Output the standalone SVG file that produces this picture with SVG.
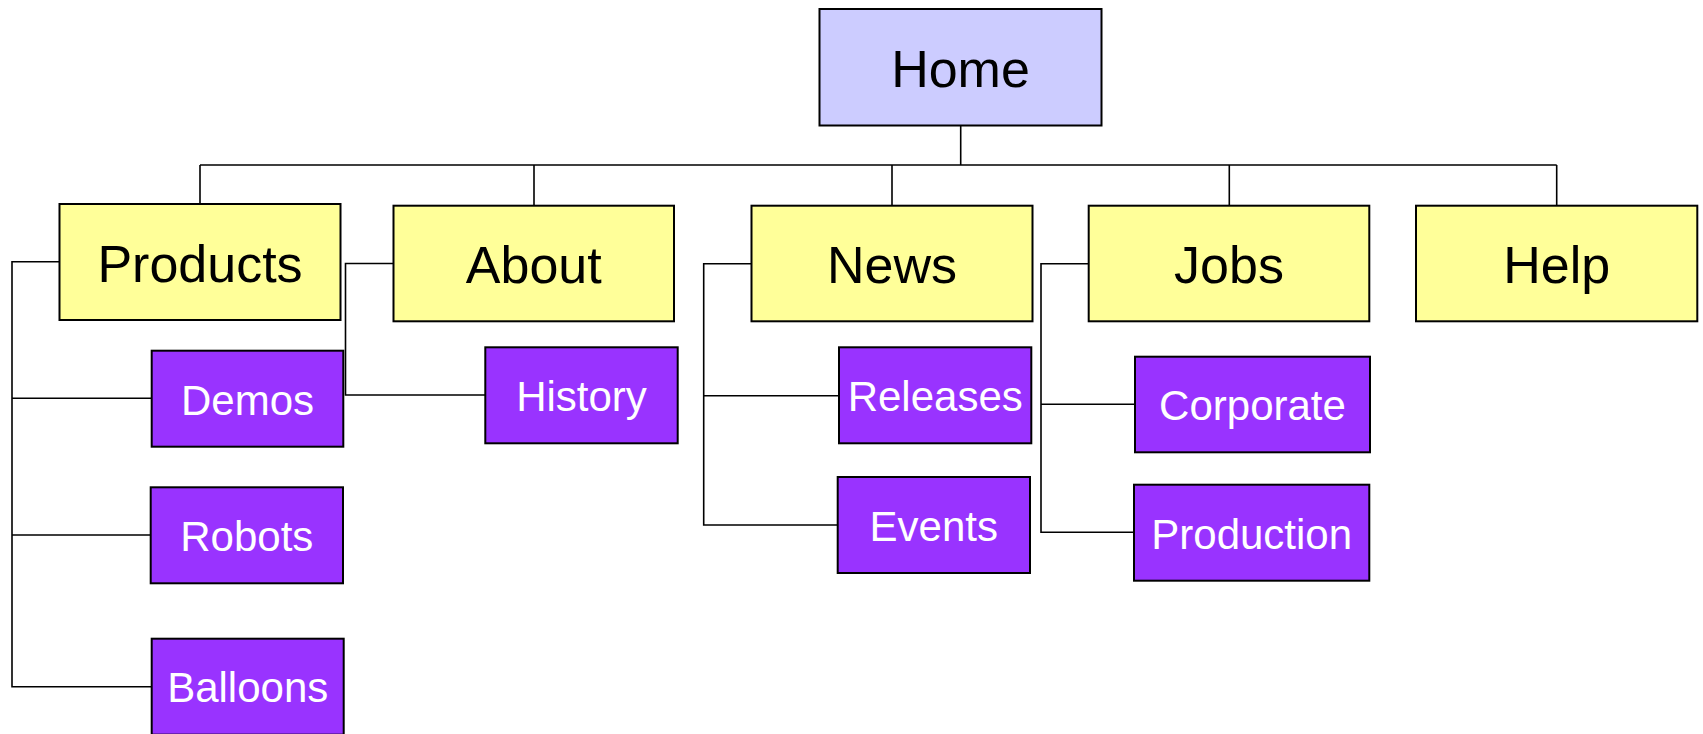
<svg xmlns="http://www.w3.org/2000/svg" width="1703" height="734" viewBox="0 0 1703 734">
<style>
.box{stroke:#000;stroke-width:2}
.home{fill:#CCCCFF}
.sec{fill:#FFFF99}
.sub{fill:#9933FF}
.t{font-family:"Liberation Sans",Arial,sans-serif;text-anchor:middle}
.big{font-size:52px;fill:#000}
.small{font-size:42px;fill:#fff}
.conn{fill:none;stroke:#000;stroke-width:1.6}
</style>
<rect width="1703" height="734" fill="#fff"/>
<g id="connectors">
<path class="conn" d="M960.7,125.7 V165 M200,165 H1556.7 M200,165 V204 M534,165 V205.7 M892,165 V205.7 M1229.3,165 V205.7 M1556.7,165 V205.7"/>
<path class="conn" d="M59.5,261.7 H12 V686.7 H151.7 M12,398.3 H151.7 M12,535 H150.7"/>
<path class="conn" d="M393.5,263.5 H345.5 V395 H485.3"/>
<path class="conn" d="M751.5,263.7 H703.7 V525 H837.7 M703.7,395.7 H839"/>
<path class="conn" d="M1088.7,263.7 H1041 V532.3 H1134 M1041,404.3 H1135"/>
</g>
<g id="home"><rect class="box home" x="819.5" y="9" width="282" height="116.5"/><text class="t big" x="960.5" y="86.8">Home</text></g>
<g id="products"><rect class="box sec" x="59.5" y="204" width="281" height="116"/><text class="t big" x="200" y="281.7">Products</text></g>
<g id="about"><rect class="box sec" x="393.5" y="205.7" width="280.5" height="115.6"/><text class="t big" x="533.8" y="283.2">About</text></g>
<g id="news"><rect class="box sec" x="751.5" y="205.7" width="281" height="115.6"/><text class="t big" x="892" y="283.2">News</text></g>
<g id="jobs"><rect class="box sec" x="1088.7" y="205.7" width="280.6" height="115.6"/><text class="t big" x="1229" y="283.2">Jobs</text></g>
<g id="help"><rect class="box sec" x="1416" y="205.7" width="281.3" height="115.6"/><text class="t big" x="1556.7" y="283.2">Help</text></g>
<g id="demos"><rect class="box sub" x="151.7" y="350.7" width="191.6" height="96"/><text class="t small" x="247.5" y="414.5">Demos</text></g>
<g id="robots"><rect class="box sub" x="150.7" y="487.3" width="192.3" height="96"/><text class="t small" x="246.8" y="551">Robots</text></g>
<g id="balloons"><rect class="box sub" x="151.7" y="638.7" width="192" height="96"/><text class="t small" x="247.7" y="701.7">Balloons</text></g>
<g id="history"><rect class="box sub" x="485.3" y="347.3" width="192.4" height="96"/><text class="t small" x="581.5" y="411.3">History</text></g>
<g id="releases"><rect class="box sub" x="839" y="347.3" width="192.3" height="96"/><text class="t small" x="935.2" y="411.3">Releases</text></g>
<g id="events"><rect class="box sub" x="837.7" y="477" width="192.3" height="96"/><text class="t small" x="933.8" y="540.5">Events</text></g>
<g id="corporate"><rect class="box sub" x="1135" y="356.7" width="235" height="95.6"/><text class="t small" x="1252.5" y="420">Corporate</text></g>
<g id="production"><rect class="box sub" x="1134" y="484.7" width="235.3" height="96"/><text class="t small" x="1251.7" y="549">Production</text></g>
</svg>
